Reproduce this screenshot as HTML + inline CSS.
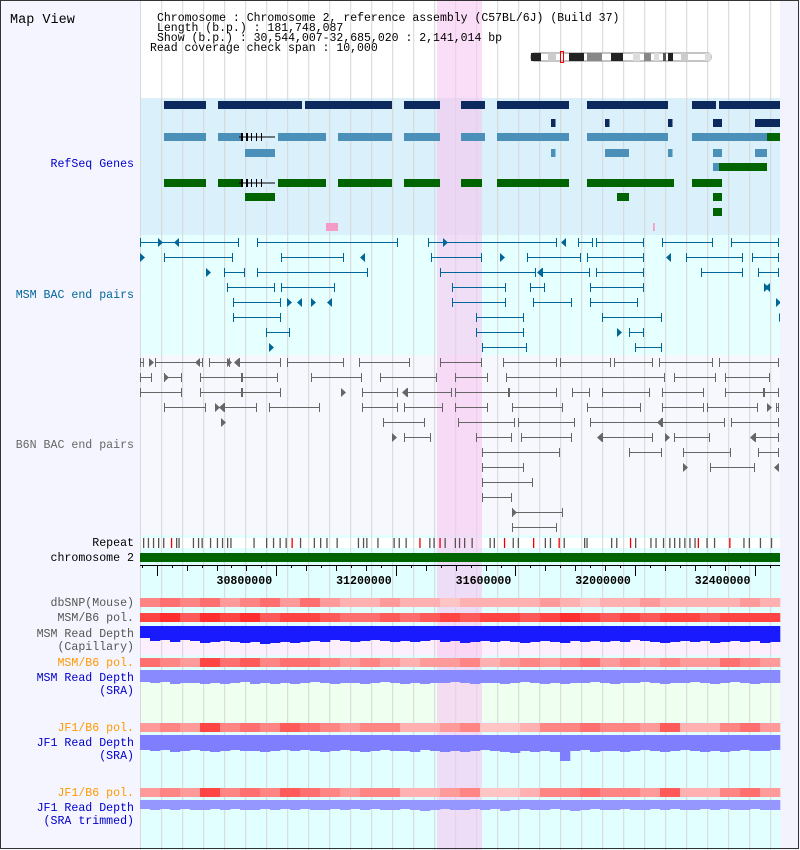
<!DOCTYPE html>
<html><head><meta charset="utf-8"><title>Map View</title>
<style>
html,body{margin:0;padding:0;background:#fff;}
svg{display:block;font-family:"Liberation Mono",monospace;}
</style></head>
<body>
<svg id="chart" width="800" height="850" viewBox="0 0 800 850" xmlns="http://www.w3.org/2000/svg"></svg>
<script>
// ---- data (positions in bins from view start 30,544,007) ----
const viewStart = 30544007;
const viewEnd = 32685020;
const axisTicks = [30800000, 31200000, 31600000, 32000000, 32400000];
const highlightBins = [99, 114];

const geneNavy0 = [[8,22],[26,54],[55,84],[88,100],[107,115],[119,143],[149,176],[184,192],[193,214]];
const geneNavy1 = [[137,138.5],[155,156.5],[176,177.5],[191,194],[205,214]];
const geneSteel2 = [[8,22],[26,45],[46,62],[66,84],[88,100],[107,115],[119,143],[149,176],[184,209]];
const geneSteel3 = [[35,45],[137,138.5],[155,163],[176,177.5],[191,194],[205,209]];
const geneSteel4 = [[191,193]];
const geneGreen4 = [[193,209]];
const geneGreen2 = [[209,214]];
const geneGreen5 = [[8,22],[26,45],[46,62],[66,84],[88,100],[107,114],[119,143],[149,178],[184,194]];
const geneGreen6 = [[35,45],[159,163],[191,194]];
const geneGreen7 = [[191,194]];
const intronBins = [[33,45]];
const pinkMarks = [[62,66],[171,171.6]];

const msmRows = [
  [[0,33],[39,86],[96,139],[146,151],[152,168],[174,191],[197,213]],
  [[8,31],[47,68],[97,114],[129,147],[149,168],[182,201],[204,213]],
  [[28,35],[39,76],[100,132],[134,150],[152,168],[187,201],[206,213]],
  [[29,45],[47,65],[104,122],[130,135],[150,168]],
  [[31,47],[104,122],[131,144],[150,166]],
  [[31,47],[112,128],[154,174]],
  [[42,50],[112,128],[163,168]],
  [[114,129],[165,174]]
];
const msmTris = [[6,13,101,142],[0,75,120,177],[22,134],[208,210],[49,54,57,64,212],[213],[159],[43]];
const b6nRows = [
  [[0,1.3],[5,21],[23,30],[33,47],[49,68],[73,90],[100,114],[121,139],[140,157],[158,171],[173,191],[193,213]],
  [[0,4],[8,14],[20,34],[34,46],[57,74],[80,99],[105,116],[122,175],[178,192],[195,210]],
  [[0,14],[20,34],[34,47],[74,86],[89,104],[105,123],[123,139],[144,150],[154,170],[174,188],[195,208],[208,213]],
  [[8,22],[28,39],[43,60],[74,86],[88,101],[105,116],[124,141],[149,167],[174,188],[189,206],[212,213]],
  [[81,95],[106,125],[126,145],[150,174],[174,195],[197,213]],
  [[88,97],[112,124],[127,144],[154,171],[178,190],[205,213]],
  [[114,140],[163,174],[181,197],[206,213]],
  [[114,128],[190,205]],
  [[114,131]],
  [[114,124]],
  [[124,141]],
  [[124,139]]
];
const b6nTris = [[3,20,29,33],[8],[67,89],[25,28,209],[27,174],[84,154,175,205],[],[181,213],[],[],[124],[]];

const repeatBins = [1,2.6,4.3,6,7.7,12,12.8,17.6,19.3,20.5,23.3,25.6,27.3,29,30.1,37.8,42,44.3,46.5,48.5,53.3,57.9,60,62.1,65.5,72.6,74.3,75.4,79.1,84.5,86.2,88.5,96.4,97.8,101.5,104.9,106.3,108,110.5,116.5,117.9,124.2,125.9,134.9,136.6,141.2,148,148.8,157,158.7,165,170.1,171.8,174.3,176.4,178,179.7,181.4,183.1,184.8,188.8,191.3,201.1,202.9,206.6,210.3];
const repeatRedBins = [10.3,50.5,93.1,99.8,121.3,131,139.5,163.3,185.9,196.4];

const dbsnp = [0.5,0.6,0.5,0.6,0.4,0.5,0.6,0.4,0.6,0.4,0.3,0.3,0.4,0.3,0.3,0.2,0.3,0.3,0.3,0.3,0.4,0.3,0.2,0.3,0.3,0.4,0.3,0.3,0.3,0.3,0.4,0.3];
const msmPolCap = [0.8,0.9,0.7,0.9,0.8,0.9,0.7,0.8,0.8,0.7,0.6,0.6,0.7,0.6,0.7,0.8,0.7,0.8,0.8,0.7,0.8,0.9,0.8,0.7,0.8,0.7,0.8,0.8,0.7,0.8,0.8,0.8];
const msmPolSra = [0.6,0.5,0.4,0.8,0.6,0.7,0.5,0.6,0.6,0.5,0.4,0.5,0.4,0.3,0.4,0.4,0.5,0.3,0.4,0.5,0.4,0.5,0.6,0.4,0.5,0.4,0.5,0.4,0.4,0.6,0.5,0.4];
const jf1PolSra = [0.4,0.5,0.4,0.8,0.5,0.6,0.5,0.7,0.6,0.5,0.4,0.5,0.5,0.3,0.3,0.4,0.5,0.2,0.2,0.3,0.5,0.5,0.6,0.5,0.5,0.4,0.7,0.3,0.3,0.5,0.6,0.4];
const jf1PolTrim = [0.4,0.5,0.4,0.8,0.5,0.6,0.5,0.7,0.6,0.5,0.4,0.5,0.5,0.3,0.3,0.4,0.5,0.2,0.2,0.3,0.5,0.5,0.6,0.5,0.5,0.4,0.7,0.3,0.3,0.5,0.6,0.4];

const msmCapDepth = [12,15,14,16,14,15,17,16,15,16,17,16,18,17,16,17,16,15,16,14,15,16,15,14,15,16,15,16,15,14,16,15,17,16,15,16,15,16,17,16,15,16,17,15,16,15,16,15,16,14,15,16,17,16,15,16,15,17,16,15,16,15,17,16];
const msmSraDepth = [12,13,12,14,13,13,14,13,14,13,12,14,13,14,13,14,13,12,13,14,13,13,14,13,12,13,14,13,14,13,13,12,13,14,13,13,14,13,12,13,14,13,14,13,13,12,13,14,13,13,12,13,14,13,13,12,13,14,13,12,13,14,13,13];
const jf1SraDepth = [15,16,15,17,16,15,16,17,16,15,16,16,17,16,15,16,15,16,17,16,15,16,17,16,15,16,16,17,15,16,17,16,17,16,15,16,17,18,16,17,16,17,26,16,15,17,16,16,17,16,15,16,17,16,15,16,17,16,17,16,15,16,16,15];
const jf1TrimDepth = [9,10,9,10,9,10,10,9,10,9,10,10,9,10,9,10,9,10,10,9,10,9,10,9,10,10,9,10,11,10,9,10,10,9,10,9,11,10,9,10,10,9,10,11,10,9,10,10,9,10,10,9,10,9,10,10,9,10,9,10,10,9,10,10];

// ---- rendering ----
const svg = document.getElementById('chart');
const NS = 'http://www.w3.org/2000/svg';
const X0 = 140, X1 = 780;
const binPx = 3;
function xb(b){ return X0 + b * binPx; }
function xbp(bp){ return X0 + (bp - viewStart) * (X1 - X0) / (viewEnd - viewStart); }
function el(tag, attrs, parent){
  const e = document.createElementNS(NS, tag);
  for (const k in attrs) e.setAttribute(k, attrs[k]);
  (parent || svg).appendChild(e);
  return e;
}
function txt(s, x, y, opts){
  const t = el('text', Object.assign({x:x, y:y, 'font-size':11.6, fill:'#000'}, opts||{}));
  t.textContent = s;
  return t;
}
function heat(v){ const g = Math.round(240 - 215*v); return 'rgb(255,'+g+','+g+')'; }

const defs = el('defs',{});
const cp = el('clipPath',{id:'panelClip'},defs);
el('rect',{x:X0,y:0,width:X1-X0,height:850},cp);

let r;
r = el('rect',{x:0,y:0,width:800,height:850,fill:'#f5f5ff'});
 
const bgs = [[0,98,'#ffffff','header-background'],[98,137,'#daf0fb','refseq-track-background'],[235,120,'#e6ffff','msm-bac-background'],
  [355,180,'#f7f8fe','b6n-bac-background'],[535,315,'#e2ffff','lower-tracks-background'],[538,10,'#ffffff','repeat-background'],
  [626,29,'#fdeffd','msm-capillary-background'],[670,52,'#effff0','msm-sra-background']];
for (const b of bgs){
  r = el('rect',{x:X0,y:b[0],width:X1-X0,height:b[1],fill:b[2]});
  
  
}
r = el('rect',{x:780,y:0,width:18,height:850,fill:'#f3f3fd'});
 
el('line',{x1:140.5,y1:0,x2:140.5,y2:850,stroke:'#d8d8e0'});

for (let gx = 161.7; gx < 780; gx += 21){
  const l = el('line',{x1:gx,y1:0,x2:gx,y2:850,stroke:'#d6d6d6','stroke-width':1});
   
}
r = el('rect',{x:xb(highlightBins[0]),y:0,width:xb(highlightBins[1])-xb(highlightBins[0]),height:850,fill:'#f7c6f0','fill-opacity':0.6});
 

let t = txt('Map View', 10, 23, {'font-size':13.5});
 
const hdr = [['Chromosome    : Chromosome 2, reference assembly (C57BL/6J) (Build 37)',157,21],
  ['Length (b.p.) : 181,748,087',157,31],['  Show (b.p.) : 30,544,007-32,685,020 : 2,141,014 bp',157,41],
  ['Read coverage check span : 10,000',150,51]];
for (const h of hdr){ t = txt(h[0], h[1], h[2], {'xml:space':'preserve','font-size':11.5});   }

const ideo = el('g',{});  
el('rect',{x:531,y:53,width:180,height:8,rx:3,fill:'#ffffff',stroke:'#888'},ideo);
const bands = [[531,541,'#222'],[548,556,'#ccc'],[569,584,'#222'],[587,602,'#888'],[611,623,'#222'],[633,640,'#ddd'],[644,651,'#888'],[654,659,'#ddd'],[663,666,'#555'],[668,673,'#222'],[681,688,'#ccc'],[705,711,'#ddd']];
for (const b of bands) el('rect',{x:b[0],y:53,width:b[1]-b[0],height:8,fill:b[2]},ideo);
el('rect',{x:560.5,y:51.5,width:3,height:11,fill:'none',stroke:'#e00'},ideo);

const labels = [['RefSeq Genes',167,'#0000cc'],['MSM BAC end pairs',298,'#006699'],['B6N BAC end pairs',448,'#666666'],
  ['Repeat',546,'#000'],['chromosome 2',561,'#000'],['dbSNP(Mouse)',606,'#555'],['MSM/B6 pol.',621,'#555'],
  ['MSM Read Depth',637,'#555'],['(Capillary)',650,'#555'],['MSM/B6 pol.',666,'#ff9900'],['MSM Read Depth',681,'#0000cc'],
  ['(SRA)',694,'#0000cc'],['JF1/B6 pol.',731,'#ff9900'],['JF1 Read Depth',746,'#0000cc'],['(SRA)',759,'#0000cc'],
  ['JF1/B6 pol.',796,'#ff9900'],['JF1 Read Depth',811,'#0000cc'],['(SRA trimmed)',824,'#0000cc']];
for (const L of labels){
  t = txt(L[0], 134, L[1], {'text-anchor':'end', fill:L[2]});
   
}

const feat = el('g',{'clip-path':'url(#panelClip)'});
 

function geneRow(arr, y, color){
  for (const s of arr){
    const g = el('rect',{x:xb(s[0]),y:y-4,width:Math.max(2,xb(s[1])-xb(s[0])),height:8,fill:color},feat);
     
  }
}
geneRow(geneNavy0,105,'#0d2a5e'); geneRow(geneNavy1,123,'#0d2a5e');
geneRow(geneSteel2,137,'#4a90b8'); geneRow(geneGreen2,137,'#006400');
geneRow(geneSteel3,153,'#4a90b8'); geneRow(geneSteel4,167,'#4a90b8'); geneRow(geneGreen4,167,'#006400');
geneRow(geneGreen5,183,'#006400'); geneRow(geneGreen6,197,'#006400'); geneRow(geneGreen7,212,'#006400');
for (const yy of [137,183]){
  for (const s of intronBins){
    el('rect',{x:xb(s[0])+4,y:yy-4,width:xb(s[1])-xb(s[0])-4,height:8,fill:'#daf0fb'},feat);
    el('line',{x1:xb(s[0]),y1:yy,x2:xb(s[1]),y2:yy,stroke:'#000'},feat);
    for (let k=0;k<5;k++){ const bx = xb(s[0])+2+k*5; el('rect',{x:bx,y:yy-4,width:k<2?2:1,height:8,fill:'#000'},feat); }
  }
}
for (const s of pinkMarks){
  const p = el('rect',{x:xb(s[0]),y:223,width:Math.max(1,xb(s[1])-xb(s[0])),height:8,fill:'#f59bc8'},feat);
   
}

function bacRows(rows, tris, y0, color, name){
  rows.forEach((row, i) => {
    const y = y0 + i*15;
    for (const s of row){
      const g = el('g',{},feat);
      
      
      el('line',{x1:xb(s[0]),y1:y+0.5,x2:xb(s[1]),y2:y+0.5,stroke:color},g);
      el('line',{x1:xb(s[0])+0.5,y1:y-4,x2:xb(s[0])+0.5,y2:y+5,stroke:color},g);
      el('line',{x1:xb(s[1])-0.5,y1:y-4,x2:xb(s[1])-0.5,y2:y+5,stroke:color},g);
    }
    (tris[i]||[]).forEach((b, j) => {
      const x = xb(b);
      const d = j % 2 ? 1 : -1;
      const p = el('polygon',{points:(x)+','+(y-4)+' '+(x)+','+(y+5)+' '+(x+5*(-d))+','+(y+0.5),fill:color},feat);
      
      
    });
  });
}
bacRows(msmRows, msmTris, 242, '#006699', 'msm-bac-pair');
bacRows(b6nRows, b6nTris, 362, '#666666', 'b6n-bac-pair');

for (const b of repeatBins){ const l = el('rect',{x:xb(b),y:538,width:1.3,height:10,fill:'#555'},feat);   }
for (const b of repeatRedBins){ const l = el('rect',{x:xb(b),y:538,width:1.3,height:10,fill:'#e00'},feat);   }

r = el('rect',{x:X0,y:553,width:X1-X0,height:9,fill:'#006400'});
 

const ax = el('g',{});  
el('line',{x1:X0,y1:565.5,x2:X1,y2:565.5,stroke:'#000'},ax);
for (let bp = 30550000; bp < viewEnd; bp += 50000){
  const x = Math.round(xbp(bp))+0.5;
  const major = (bp % 400000) === 200000;
  const mid = (bp % 100000) === 0;
  el('line',{x1:x,y1:565,x2:x,y2:major?576:(mid?571:568),stroke:'#000'},ax);
}
for (const tk of axisTicks){
  t = txt(String(tk), xbp(tk), 584, {'font-weight':'bold','font-size':11.6});
   
}

function heatRow(vals, y, h, name){
  const w = (X1-X0)/vals.length;
  vals.forEach((v,i) => {
    const c = el('rect',{x:X0+i*w,y:y,width:w+0.3,height:h,fill:heat(v)});
    
    
  });
}
heatRow(dbsnp,598,9,'dbsnp-cell');
heatRow(msmPolCap,613,9,'msm-pol-cell');
heatRow(msmPolSra,658,9,'msm-sra-pol-cell');
heatRow(jf1PolSra,723,9,'jf1-pol-cell');
heatRow(jf1PolTrim,788,9,'jf1-trimmed-pol-cell');

function depthRow(vals, y, color, name){
  const w = (X1-X0)/vals.length;
  vals.forEach((v,i) => {
    const c = el('rect',{x:X0+i*w,y:y,width:w+0.3,height:v,fill:color});
    
    
  });
}
depthRow(msmCapDepth,626,'#1a1aff','msm-capillary-depth-bar');
depthRow(msmSraDepth,670,'#8a8aff','msm-sra-depth-bar');
depthRow(jf1SraDepth,735,'#7e7eff','jf1-sra-depth-bar');
depthRow(jf1TrimDepth,800,'#9696ff','jf1-trimmed-depth-bar');

el('rect',{x:0.5,y:0.5,width:798,height:848,fill:'none',stroke:'#333'});
</script>
</body></html>
